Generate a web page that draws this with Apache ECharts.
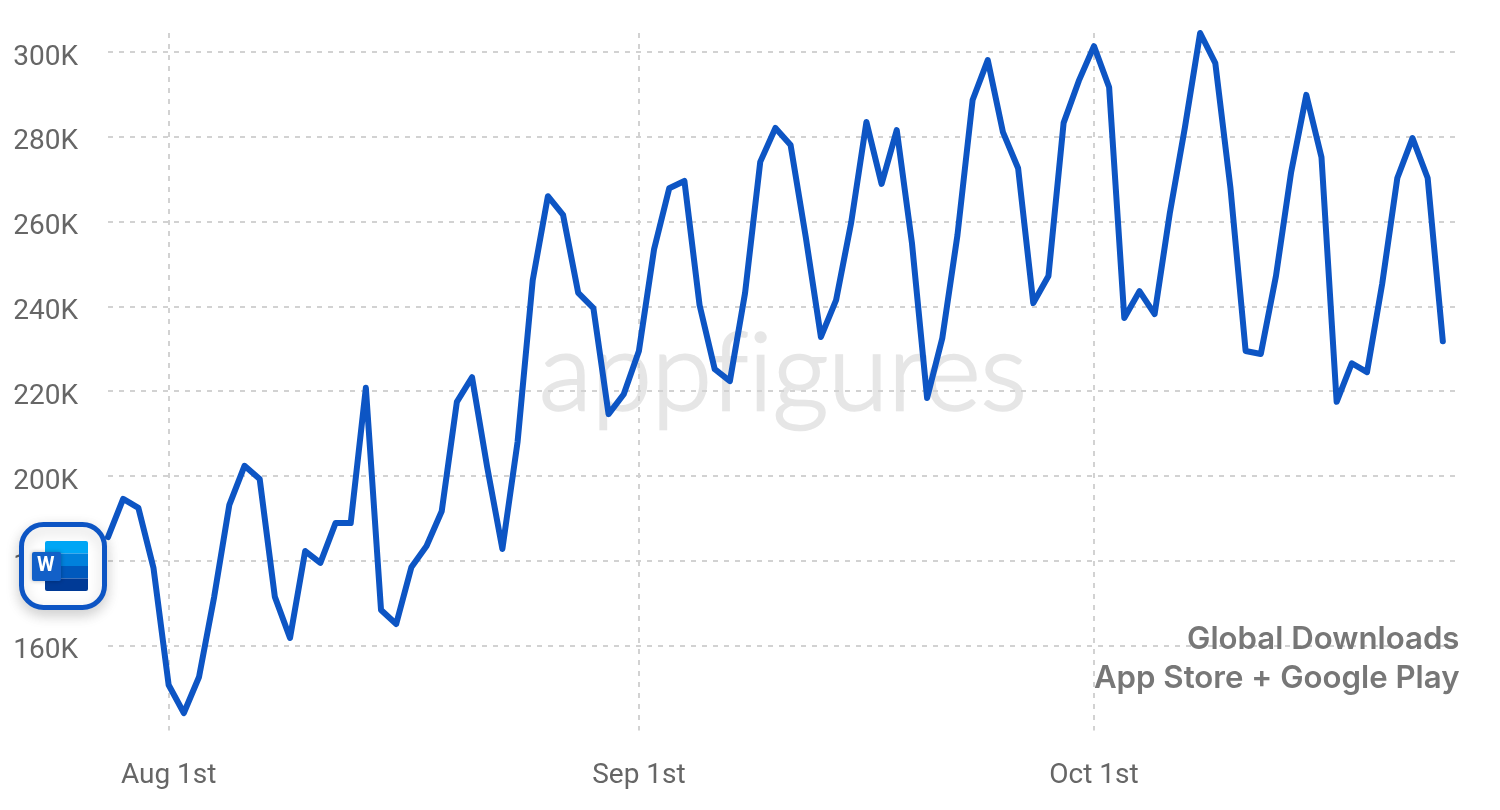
<!DOCTYPE html>
<html>
<head>
<meta charset="utf-8">
<style>html,body{margin:0;padding:0;background:#fff}#c{width:1500px;height:810px}</style>
<script src="https://cdn.jsdelivr.net/npm/echarts@6/dist/echarts.min.js"></script>
</head>
<body>
<div id="c"></div>
<script>
const categories = [
 'Jul 28','Jul 29','Jul 30','Jul 31',
 'Aug 1st','Aug 2','Aug 3','Aug 4','Aug 5','Aug 6','Aug 7','Aug 8','Aug 9','Aug 10','Aug 11','Aug 12','Aug 13','Aug 14','Aug 15','Aug 16','Aug 17','Aug 18','Aug 19','Aug 20','Aug 21','Aug 22','Aug 23','Aug 24','Aug 25','Aug 26','Aug 27','Aug 28','Aug 29','Aug 30','Aug 31',
 'Sep 1st','Sep 2','Sep 3','Sep 4','Sep 5','Sep 6','Sep 7','Sep 8','Sep 9','Sep 10','Sep 11','Sep 12','Sep 13','Sep 14','Sep 15','Sep 16','Sep 17','Sep 18','Sep 19','Sep 20','Sep 21','Sep 22','Sep 23','Sep 24','Sep 25','Sep 26','Sep 27','Sep 28','Sep 29','Sep 30',
 'Oct 1st','Oct 2','Oct 3','Oct 4','Oct 5','Oct 6','Oct 7','Oct 8','Oct 9','Oct 10','Oct 11','Oct 12','Oct 13','Oct 14','Oct 15','Oct 16','Oct 17','Oct 18','Oct 19','Oct 20','Oct 21','Oct 22','Oct 23','Oct 24','Oct 25'
];
const downloads = [
 185.6,194.6,192.5,178.3,
 150.7,144.1,152.6,171.5,193.2,202.4,199.3,171.5,161.8,182.3,179.5,188.9,188.9,220.8,168.4,165.1,178.5,183.5,191.7,217.5,223.3,202.1,182.8,208,246.2,266,261.6,243.2,239.6,214.6,219.3,
 229.5,253.5,267.9,269.6,240.3,225.2,222.4,243.2,274.1,282.1,278.1,256.4,232.8,241.5,259.9,283.5,268.9,281.6,255,218.4,232.5,256.8,288.7,298.1,281.1,272.6,240.8,247.2,283.3,293.2,
 301.4,291.7,237.3,243.6,238.2,262,282.3,304.5,297.4,267.9,229.5,228.8,247.2,271.7,289.9,275.2,217.5,226.6,224.5,245.3,270.3,279.7,270.3,231.8,null
];
const xTickLabels = ['Aug 1st','Sep 1st','Oct 1st'];
const captionTop = 'Global Downloads';
const captionBottom = 'App Store + Google Play';
const watermark = 'appf\u200Cigures';

const isTick = (i, v) => xTickLabels.includes(v);
const chart = echarts.init(document.getElementById('c'), null, {renderer:'canvas'});
chart.setOption({
  animation:false,
  backgroundColor:'#ffffff',
  grid:{left:108,right:42,top:33,bottom:79.6},
  xAxis:{
    type:'category',data:categories,boundaryGap:false,
    axisLine:{show:false},axisTick:{show:false},
    axisLabel:{interval:isTick,color:'#666666',fontFamily:'Roboto',fontSize:28,margin:31.6,hideOverlap:false},
    splitLine:{show:true,interval:isTick,lineStyle:{color:'#d2d2d2',width:2,type:[5,6]}}
  },
  yAxis:{
    type:'value',min:140,max:304.5,interval:20,
    axisLine:{show:false},axisTick:{show:false},
    axisLabel:{showMinLabel:false,showMaxLabel:false,color:'#666666',fontFamily:'Roboto',fontSize:28,margin:30,verticalAlign:'top',lineHeight:11,formatter:v=>v+'K'},
    splitLine:{show:true,showMinLine:false,showMaxLine:false,lineStyle:{color:'#d2d2d2',width:2,type:[5,6]}}
  },
  series:[{
    type:'line',data:downloads,symbol:'none',smooth:false,clip:false,z:5,
    lineStyle:{color:'#0D55C4',width:6,cap:'round',join:'round'}
  }],
  graphic:[
    {type:'text',z:-1,x:539,y:320,style:{text:watermark,font:'300 109px Lato',fill:'#e6e6e6',stroke:'#e6e6e6',lineWidth:2.5}},
    {type:'text',z:6,x:1459.5,y:624,style:{text:captionTop,font:'600 31.2px Inter',fill:'#777777',align:'right'}},
    {type:'text',z:6,x:1459.5,y:663,style:{text:captionBottom,font:'600 31.2px Inter',fill:'#777777',align:'right'}},
    {type:'group',z:10,left:19,top:522,children:[
      {type:'rect',z:10,shape:{x:2.5,y:2.5,width:83,height:83,r:22},style:{fill:'#ffffff',stroke:'#0D55C4',lineWidth:5,shadowBlur:14,shadowColor:'rgba(0,0,0,0.18)',shadowOffsetY:5}},
      {type:'rect',z:11,shape:{x:26,y:19,width:43,height:12.5,r:[2,2,0,0]},style:{fill:'#00A6F5'}},
      {type:'rect',z:11,shape:{x:26,y:31.5,width:43,height:12.5},style:{fill:'#0081DC'}},
      {type:'rect',z:11,shape:{x:26,y:44,width:43,height:12.5},style:{fill:'#0059BD'}},
      {type:'rect',z:11,shape:{x:26,y:56.5,width:43,height:12.5,r:[0,0,2,2]},style:{fill:'#003A96'}},
      {type:'rect',z:12,shape:{x:13,y:30,width:29,height:29,r:2},style:{fill:'#1260C8',shadowBlur:4,shadowColor:'rgba(0,0,0,0.3)'}},
      {type:'text',z:13,x:18,y:34,style:{text:'W',font:'700 20px Roboto',fill:'#ffffff'}}
    ]}
  ]
});
</script>
</body>
</html>
